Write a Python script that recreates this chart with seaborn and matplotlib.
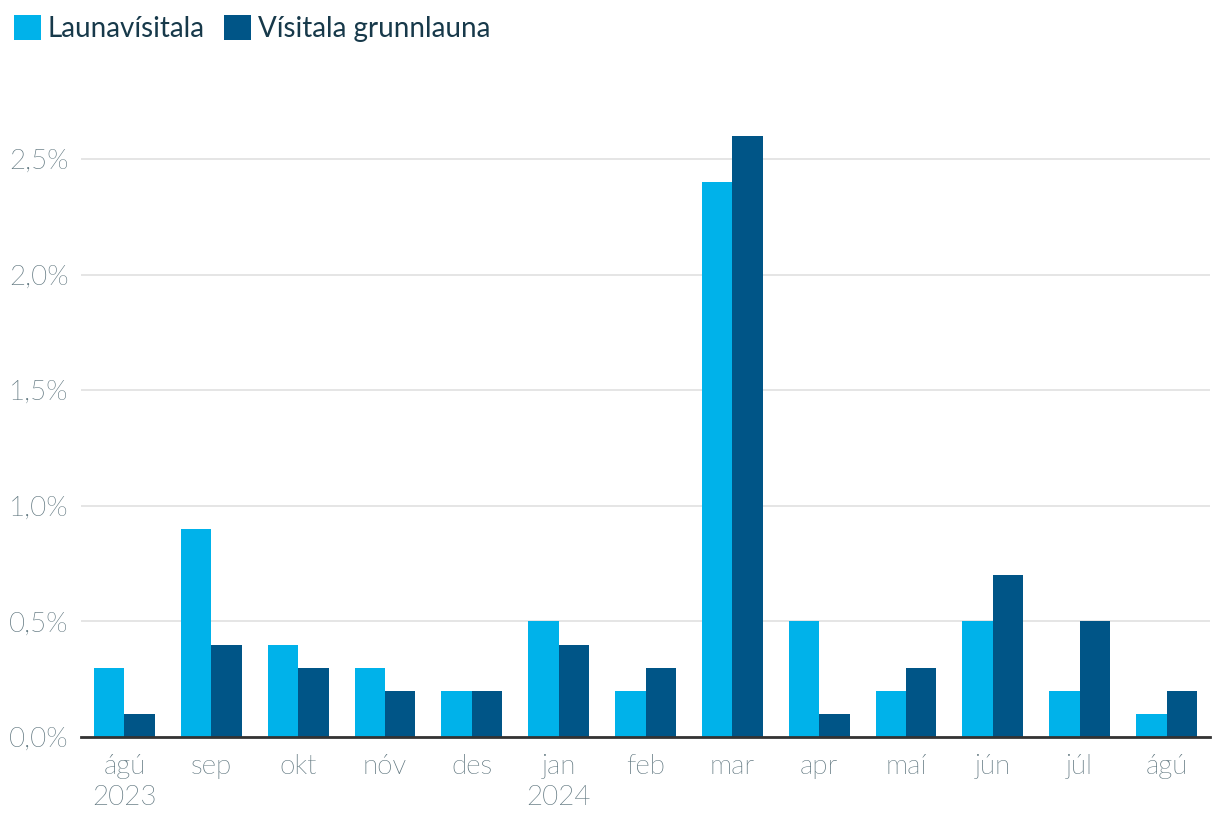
import matplotlib
matplotlib.use("Agg")
import matplotlib.pyplot as plt
import seaborn as sns
import pandas as pd
from matplotlib.ticker import FuncFormatter, MultipleLocator
from matplotlib.patches import Patch
from matplotlib import font_manager as fm

months = ["ágú\n2023", "sep", "okt", "nóv", "des", "jan\n2024", "feb", "mar",
          "apr", "maí", "jún", "júl", "ágú"]
launavisitala = [0.3, 0.9, 0.4, 0.3, 0.2, 0.5, 0.2, 2.4, 0.5, 0.2, 0.5, 0.2, 0.1]
visitala_grunnlauna = [0.1, 0.4, 0.3, 0.2, 0.2, 0.4, 0.3, 2.6, 0.1, 0.3, 0.7, 0.5, 0.2]
series_names = ["Launavísitala", "Vísitala grunnlauna"]
colors = ["#00B2EA", "#005587"]

df = pd.DataFrame({
    "month": months * 2,
    "value": launavisitala + visitala_grunnlauna,
    "series": [series_names[0]] * len(months) + [series_names[1]] * len(months),
})

sns.set_theme(style="white")
plt.rcParams["font.family"] = ["Lato", "DejaVu Sans"]

# find a real Lato Light face if available
lato_faces = [f for f in fm.fontManager.ttflist if f.name == "Lato"]
light = [f for f in lato_faces if f.style == "normal" and "light" in f.fname.lower()
         and "italic" not in f.fname.lower()]
if light:
    tick_fp = fm.FontProperties(fname=light[0].fname, size=20)
    tick_color = "#5d747d"
else:
    tick_fp = fm.FontProperties(family="Lato", weight="normal", size=20)
    tick_color = "#869ba3"

fig = plt.figure(figsize=(12.2, 8.32), dpi=100)
ax = fig.add_axes([81 / 1220, 95 / 832, (1210 - 81) / 1220, (737 - 100) / 832])

sns.barplot(data=df, x="month", y="value", hue="series", palette=colors,
            width=0.7, gap=0, dodge=True, saturation=1, ax=ax, legend=False,
            order=months, hue_order=series_names, linewidth=0)

ax.set_xlim(-0.5, 12.5)
ax.set_ylim(0, 2.755)
ax.yaxis.set_major_locator(MultipleLocator(0.5))
ax.yaxis.set_major_formatter(FuncFormatter(lambda v, p: f"{v:.1f}".replace(".", ",") + "%"))
ax.grid(axis="y", color="#e3e3e3", linewidth=1.3)
ax.set_axisbelow(True)
for s in ["top", "right", "left"]:
    ax.spines[s].set_visible(False)
ax.spines["bottom"].set_color("#333333")
ax.spines["bottom"].set_linewidth(2)
ax.set_xlabel("")
ax.set_ylabel("")
ax.tick_params(axis="both", length=0, labelsize=20, labelcolor=tick_color)
ax.tick_params(axis="y", pad=9)
ax.tick_params(axis="x", pad=12)
fig.canvas.draw()
for lab in ax.get_xticklabels() + ax.get_yticklabels():
    lab.set_fontproperties(tick_fp)
    lab.set_linespacing(1.3)

handles = [Patch(facecolor=c, edgecolor="none") for c in colors]
leg = fig.legend(handles, series_names, loc="upper left", bbox_to_anchor=(0.002, 0.995),
                 ncol=2, frameon=False, fontsize=20, handlelength=0.98, handleheight=0.98,
                 handletextpad=0.25, columnspacing=0.7, borderaxespad=0)
for t in leg.get_texts():
    t.set_color("#17394a")

fig.savefig("out.png", dpi=100)
